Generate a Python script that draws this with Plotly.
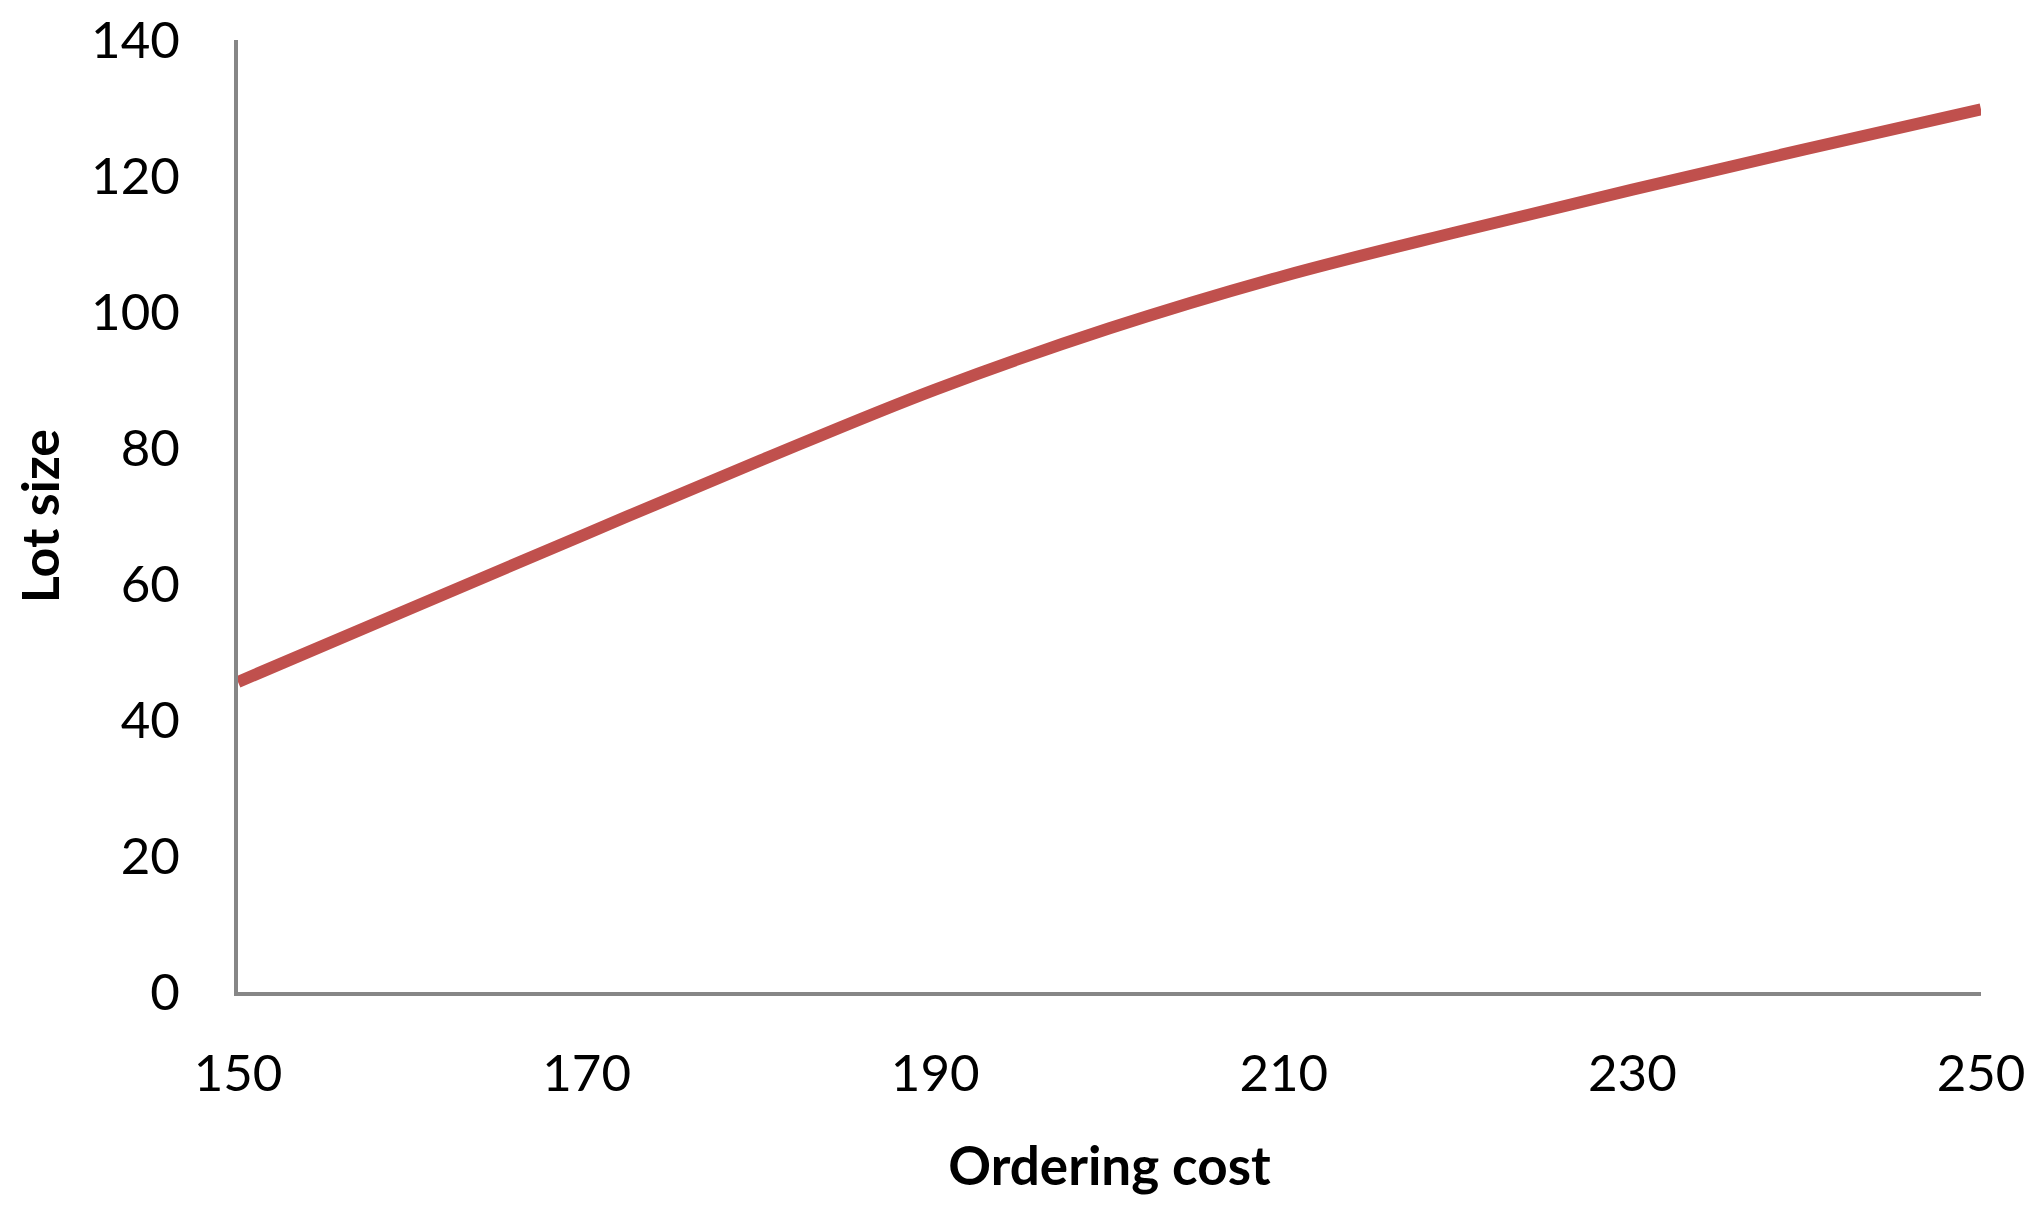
"""
Lot size vs ordering cost line chart.
"""

import plotly.graph_objects as go

# Data
ordering_cost = [150, 160, 170, 180, 190, 200, 210, 220, 230, 240, 250]
lot_size = [45.6, 56.5, 67.4, 78.2, 88.6, 97.6, 105.3, 111.8, 118.0, 124.0, 129.8]

x_ticks = [150, 170, 190, 210, 230, 250]
y_ticks = [0, 20, 40, 60, 80, 100, 120, 140]

COLORS = {
    "line": "#C0504D",
    "axis": "#868686",
    "text": "#000000",
}
FONT = "Lato, 'Open Sans', sans-serif"

fig = go.Figure(go.Scatter(
    x=ordering_cost,
    y=lot_size,
    mode="lines",
    line=dict(color=COLORS["line"], width=12, shape="spline", smoothing=1.0),
    hovertemplate="Ordering cost: %{x}<br>Lot size: %{y:.1f}<extra></extra>",
))

fig.update_layout(
    width=2036,
    height=1206,
    paper_bgcolor="white",
    plot_bgcolor="white",
    showlegend=False,
    font=dict(family=FONT, size=51, color=COLORS["text"]),
    margin=dict(l=230, r=63, t=32, b=222),
    xaxis=dict(
        range=[150, 250],
        tickvals=x_ticks,
        showgrid=False,
        zeroline=False,
        showline=True,
        linecolor=COLORS["axis"],
        linewidth=4,
        ticks="",
        ticklabelstandoff=34,
        ticklabeloverflow="allow",
        automargin=False,
        title=dict(text="<b>Ordering cost</b>", font=dict(size=53), standoff=48),
    ),
    yaxis=dict(
        range=[0, 140],
        tickvals=y_ticks,
        showgrid=False,
        zeroline=False,
        showline=True,
        linecolor=COLORS["axis"],
        linewidth=4,
        ticks="",
        ticklabelstandoff=44,
        ticklabeloverflow="allow",
        automargin=False,
        title=dict(text="<b>Lot size</b>", font=dict(size=52), standoff=30),
    ),
)

fig.write_html("out.html")
